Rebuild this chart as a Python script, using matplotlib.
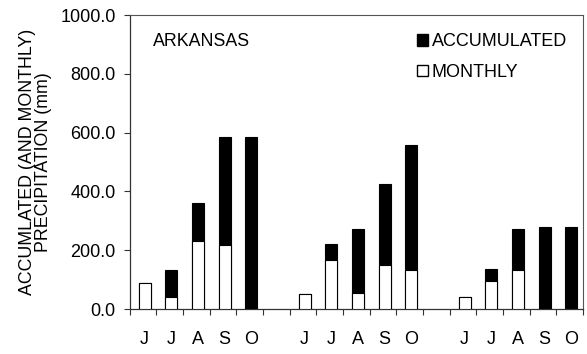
import matplotlib
matplotlib.use("Agg")
import matplotlib.pyplot as plt
from matplotlib.patches import Patch
import numpy as np

plt.rcParams['font.family'] = ['Liberation Sans', 'DejaVu Sans']

# Three seasons of June-October, with an empty slot between seasons
months = ["J", "J", "A", "S", "O", "", "J", "J", "A", "S", "O", "", "J", "J", "A", "S", "O"]
accumulated = [89, 131, 362, 584, 586, np.nan,
               51, 220, 273, 426, 558, np.nan,
               42, 137, 272, 278, 278]
monthly = [89, 42, 231, 218, 2, np.nan,
           51, 168, 53, 150, 133, np.nan,
           42, 95, 133, 5, 0]

x = np.arange(len(months))
has_bar = np.array([m != "" for m in months])

fig = plt.figure(figsize=(5.87, 3.54), dpi=100)
ax = fig.add_axes([0.2208, 0.1271, 0.7724, 0.8305])

acc = np.array(accumulated, dtype=float)
mon = np.array(monthly, dtype=float)
ax.bar(x[has_bar] + 0.06, acc[has_bar], width=0.45, color="black", edgecolor="black", linewidth=0.8, zorder=2)
ax.bar(x[has_bar] + 0.06, mon[has_bar], width=0.45, color="white", edgecolor="black", linewidth=0.8, zorder=3)

ax.set_xlim(-0.5, len(months) - 0.5)
ax.set_ylim(0, 1000)
yt = np.arange(0, 1001, 200)
ax.set_yticks(yt)
ax.set_yticklabels(["%.1f" % v for v in yt], fontsize=13)

# month letters under the bars, tick marks on the slot boundaries
ax.set_xticks(x + 0.06)
ax.set_xticklabels(months, fontsize=13)
ax.tick_params(axis="x", which="major", length=0, pad=16)
ax.set_xticks(np.arange(-0.5, len(months), 1.0), minor=True)
ax.tick_params(axis="x", which="minor", length=4, width=0.8, direction="out", color="#333333")
ax.tick_params(axis="y", length=4, width=0.8, direction="out", color="#333333", pad=6)

for side in ["top", "right"]:
    ax.spines[side].set_color("#555555")
    ax.spines[side].set_linewidth(0.8)
for side in ["left", "bottom"]:
    ax.spines[side].set_color("#333333")
    ax.spines[side].set_linewidth(0.9)

ax.set_ylabel("ACCUMLATED (AND MONTHLY)\nPRECIPITATION (mm)", fontsize=12.8, linespacing=0.95, labelpad=6)

ax.text(0.051, 0.91, "ARKANSAS", transform=ax.transAxes, fontsize=12.8, va="center", ha="left")

handles = [Patch(facecolor="black", edgecolor="black", label="ACCUMULATED"),
           Patch(facecolor="white", edgecolor="black", label="MONTHLY")]
ax.legend(handles=handles, loc="upper right", bbox_to_anchor=(0.988, 0.975), frameon=False,
          fontsize=13, handlelength=0.6, handleheight=0.6, handletextpad=0.2, labelspacing=0.75,
          borderaxespad=0.2)

fig.savefig("out.png", dpi=100)
